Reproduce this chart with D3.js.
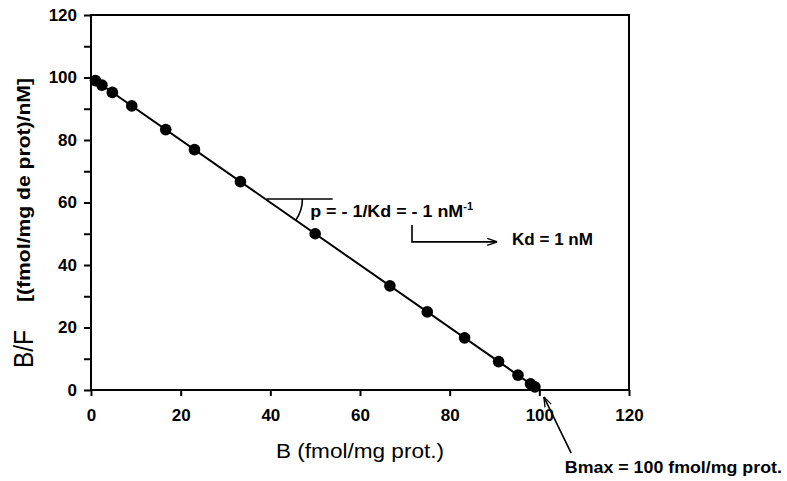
<!DOCTYPE html>
<html>
<head>
<meta charset="utf-8">
<script src="https://cdn.jsdelivr.net/npm/d3@7"></script>
<style>
  body { margin: 0; background: #fff; }
  svg { font-family: "Liberation Sans", Arial, sans-serif; }
  .tick text { font-weight: bold; font-size: 17px; fill: #000; }
</style>
</head>
<body>
<div id="chart"></div>
<script>
// Scatchard plot data: B (fmol/mg prot.) and B/F ((fmol/mg prot)/nM)
const boundValues = [0.99, 2.44, 4.76, 9.09, 16.67, 23.08, 33.33, 50, 66.67, 75, 83.33, 90.91, 95.24, 98.04, 99.01];
const ratioValues = [99.01, 97.56, 95.24, 90.91, 83.33, 76.92, 66.67, 50, 33.33, 25, 16.67, 9.09, 4.76, 1.96, 0.99];
// fitted line end points (B, B/F)
const fitLine = [[0, 100], [100, 0]];
const xTicks = [0, 20, 40, 60, 80, 100, 120];
const yTicks = [0, 10, 20, 30, 40, 50, 60, 70, 80, 90, 100, 110, 120];

class ScatchardChart {
  constructor(_config) {
    this.config = {
      parentElement: _config.parentElement,
      containerWidth: _config.containerWidth || 787,
      containerHeight: _config.containerHeight || 481,
      margin: _config.margin || { top: 15, right: 158, bottom: 91, left: 91 },
    };
    this.initVis();
  }

  initVis() {
    const vis = this;
    const m = vis.config.margin;
    vis.width = vis.config.containerWidth - m.left - m.right;
    vis.height = vis.config.containerHeight - m.top - m.bottom;

    vis.svg = d3
      .select(vis.config.parentElement)
      .append("svg")
      .attr("width", vis.config.containerWidth)
      .attr("height", vis.config.containerHeight);

    vis.x = d3.scaleLinear().domain([0, 120]).range([m.left, m.left + vis.width]);
    vis.y = d3.scaleLinear().domain([0, 120]).range([m.top + vis.height, m.top]);

    // arrow head (open chevron)
    vis.svg
      .append("defs")
      .append("marker")
      .attr("id", "chev")
      .attr("viewBox", "0 0 10 10")
      .attr("refX", 10)
      .attr("refY", 5)
      .attr("markerWidth", 10)
      .attr("markerHeight", 10)
      .attr("markerUnits", "userSpaceOnUse")
      .attr("orient", "auto")
      .append("path")
      .attr("d", "M0,1.5 L10,5 L0,8.5")
      .attr("fill", "none")
      .attr("stroke", "#000")
      .attr("stroke-width", 1.3);

    // axes
    const xAxis = d3.axisBottom(vis.x).tickValues(xTicks).tickSize(6).tickPadding(13);
    const yAxis = d3
      .axisLeft(vis.y)
      .tickValues(yTicks)
      .tickSize(7)
      .tickPadding(7)
      .tickFormat((d) => (d % 20 === 0 ? d : ""));

    const gx = vis.svg
      .append("g")
      .attr("transform", `translate(0,${m.top + vis.height})`)
      .call(xAxis);
    const gy = vis.svg.append("g").attr("transform", `translate(${m.left},0)`).call(yAxis);
    [gx, gy].forEach((g) => {
      g.select(".domain").remove();
      g.selectAll(".tick line").attr("stroke", "#000").attr("stroke-width", 2);
    });

    // frame
    vis.svg
      .append("rect")
      .attr("x", m.left)
      .attr("y", m.top)
      .attr("width", vis.width)
      .attr("height", vis.height)
      .attr("fill", "none")
      .attr("stroke", "#000")
      .attr("stroke-width", 2);

    // fitted line
    const line = d3
      .line()
      .x((d) => vis.x(d[0]))
      .y((d) => vis.y(d[1]));
    vis.svg
      .append("path")
      .datum(fitLine)
      .attr("d", line)
      .attr("fill", "none")
      .attr("stroke", "#000")
      .attr("stroke-width", 2);

    // points
    vis.svg
      .append("g")
      .selectAll("circle")
      .data(boundValues.map((b, i) => [b, ratioValues[i]]))
      .enter()
      .append("circle")
      .attr("cx", (d) => vis.x(d[0]))
      .attr("cy", (d) => vis.y(d[1]))
      .attr("r", 5.8)
      .attr("fill", "#000");

    // axis titles
    vis.svg
      .append("text")
      .attr("x", 360)
      .attr("y", 458)
      .attr("text-anchor", "middle")
      .attr("font-size", 20)
      .attr("textLength", 168)
      .attr("lengthAdjust", "spacingAndGlyphs")
      .text("B (fmol/mg prot.)");

    vis.svg
      .append("text")
      .attr("transform", "translate(33,349) rotate(-90)")
      .attr("text-anchor", "middle")
      .attr("font-size", 27)
      .attr("textLength", 38)
      .attr("lengthAdjust", "spacingAndGlyphs")
      .text("B/F");

    vis.svg
      .append("text")
      .attr("transform", "translate(30,190) rotate(-90)")
      .attr("text-anchor", "middle")
      .attr("font-size", 19)
      .attr("font-weight", "bold")
      .attr("textLength", 224)
      .attr("lengthAdjust", "spacingAndGlyphs")
      .text("[(fmol/mg de prot)/nM]");

    vis.drawAnnotations();
  }

  drawAnnotations() {
    const vis = this;
    const x = vis.x;
    const y = vis.y;
    const g = vis.svg.append("g").attr("fill", "#000");

    // slope angle: horizontal reference and arc
    const yRef = 61.1;
    const xRef = 100 - yRef;
    g.append("line")
      .attr("x1", x(xRef) + 1)
      .attr("x2", x(53.9))
      .attr("y1", y(yRef))
      .attr("y2", y(yRef))
      .attr("stroke", "#000")
      .attr("stroke-width", 1.6);

    const ang = Math.atan2(y(0) - y(1), x(1) - x(0));
    const r = 37;
    const cx = x(xRef);
    const cy = y(yRef);
    g.append("path")
      .attr(
        "d",
        `M${cx + r},${cy} A${r},${r} 0 0 1 ${cx + r * Math.cos(ang)},${cy + r * Math.sin(ang)}`
      )
      .attr("fill", "none")
      .attr("stroke", "#000")
      .attr("stroke-width", 1.6);

    const pText = g
      .append("text")
      .attr("x", x(48.9))
      .attr("y", y(55.4))
      .attr("font-size", 16)
      .attr("font-weight", "bold");
    pText
      .append("tspan")
      .attr("textLength", 153)
      .attr("lengthAdjust", "spacingAndGlyphs")
      .text("p = - 1/Kd = - 1 nM");
    pText.append("tspan").attr("dy", -7).attr("font-size", 11).text("-1");

    // bracket arrow to Kd
    g.append("path")
      .attr("d", `M${x(71.6)},${y(52.8)} V${y(47.4)} H${x(90.6)}`)
      .attr("fill", "none")
      .attr("stroke", "#000")
      .attr("stroke-width", 1.6)
      .attr("marker-end", "url(#chev)");

    g.append("text")
      .attr("x", x(93.9))
      .attr("y", y(46.4))
      .attr("font-size", 16)
      .attr("font-weight", "bold")
      .attr("textLength", 81)
      .attr("lengthAdjust", "spacingAndGlyphs")
      .text("Kd = 1 nM");

    // Bmax arrow
    g.append("line")
      .attr("x1", x(107.1))
      .attr("y1", y(-20.2))
      .attr("x2", x(101))
      .attr("y2", y(-2.2))
      .attr("stroke", "#000")
      .attr("stroke-width", 1.6)
      .attr("marker-end", "url(#chev)");

    g.append("text")
      .attr("x", x(105.7))
      .attr("y", y(-26.6))
      .attr("font-size", 16)
      .attr("font-weight", "bold")
      .attr("textLength", 217)
      .attr("lengthAdjust", "spacingAndGlyphs")
      .text("Bmax = 100 fmol/mg prot.");
  }
}

new ScatchardChart({ parentElement: "#chart" });
</script>
</body>
</html>
